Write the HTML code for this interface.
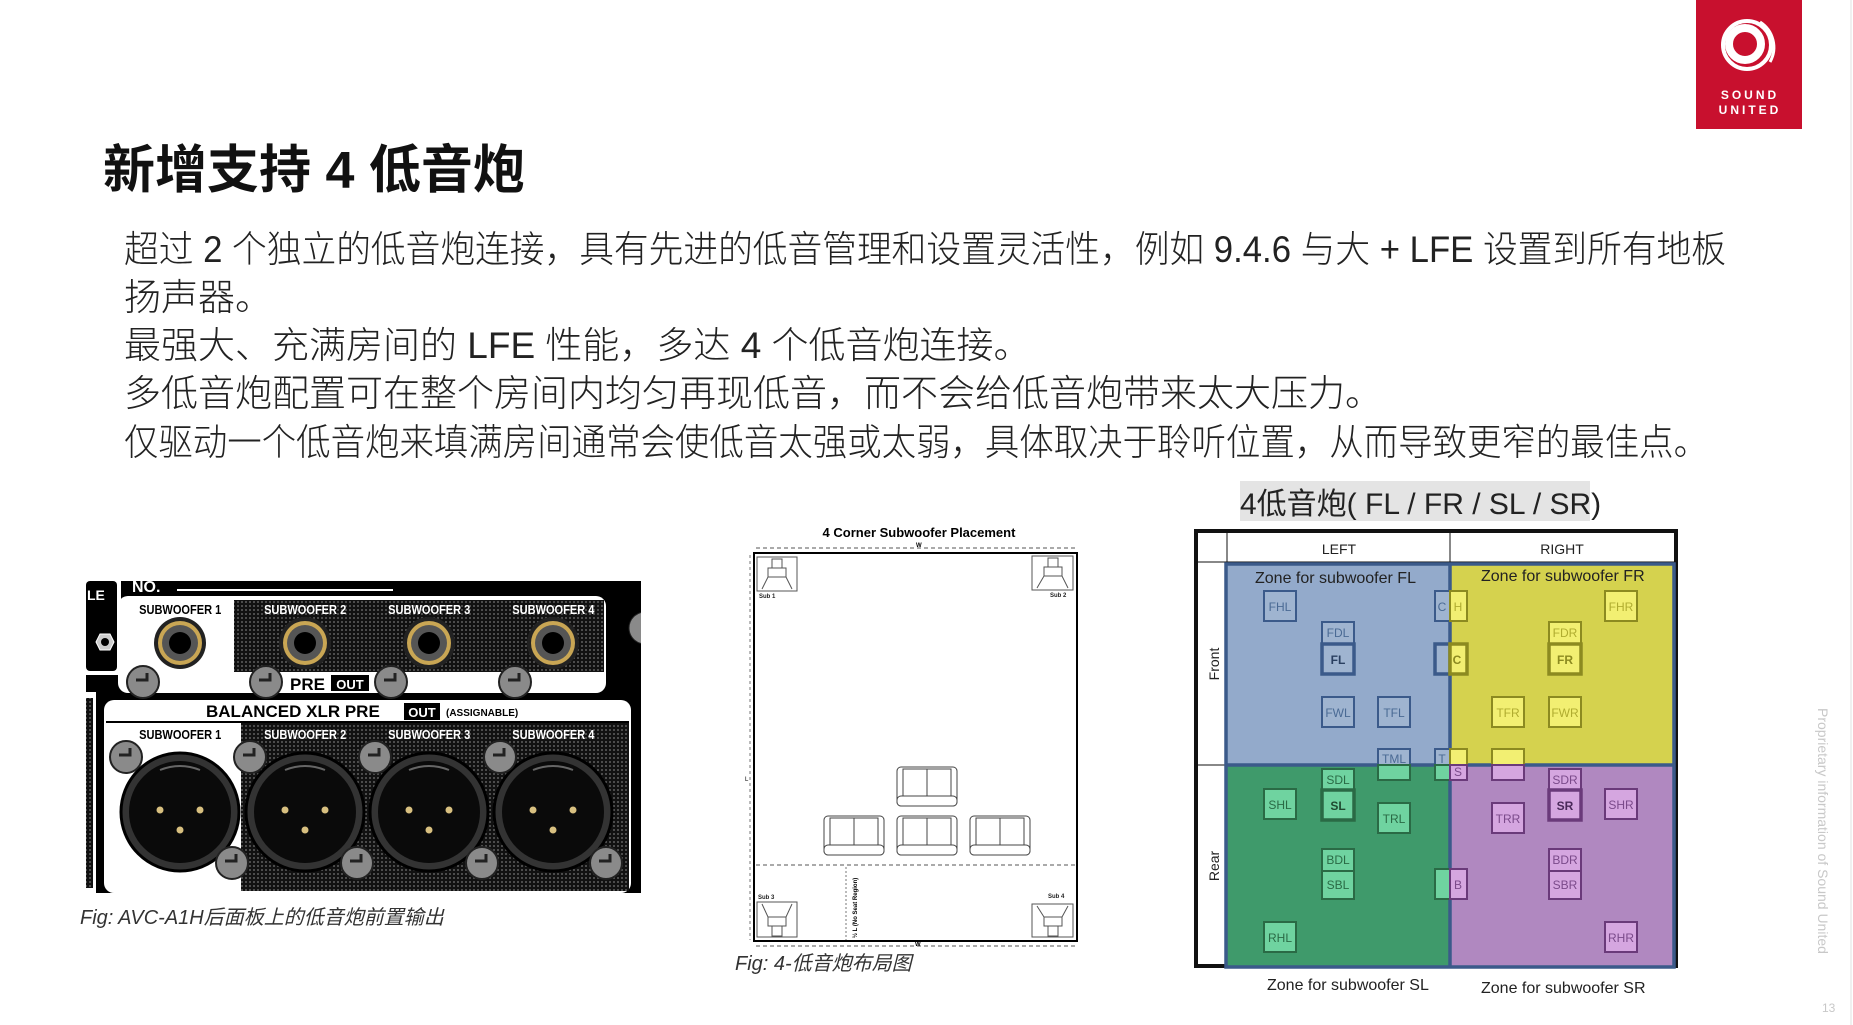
<!DOCTYPE html>
<html><head><meta charset="utf-8"><style>
html,body{margin:0;padding:0;background:#fff;}
svg{display:block;}
</style></head><body>
<svg width="1853" height="1025" viewBox="0 0 1853 1025" xmlns="http://www.w3.org/2000/svg" font-family="Liberation Sans, Noto Sans CJK SC, sans-serif">
<defs>
<pattern id="dots" width="4" height="4" patternUnits="userSpaceOnUse"><rect width="4" height="4" fill="#111"/><circle cx="2" cy="2" r="0.9" fill="#777"/></pattern>
<g id="screw"><circle r="16" fill="#8a8a8a" stroke="#222" stroke-width="2"/><path d="M-7,-2 L4,-2 L4,-9" stroke="#222" stroke-width="3" fill="none"/></g>
<g id="rca"><circle r="26" fill="#222"/><circle r="22" fill="#c9a654"/><circle r="18" fill="#555"/><circle r="11" fill="#000"/></g>
<g id="xlr"><circle r="59" fill="#333" stroke="#000" stroke-width="3"/><circle r="51" fill="#0a0a0a"/><circle r="3.5" cx="-20" cy="-2" fill="#d8c080"/><circle r="3.5" cx="20" cy="-2" fill="#d8c080"/><circle r="3.5" cx="0" cy="18" fill="#d8c080"/><path d="M-20,-42 Q0,-50 20,-42" stroke="#666" stroke-width="2" fill="none"/></g>
<g id="chair" fill="#fff" stroke="#444" stroke-width="1"><rect x="0" y="0" width="60" height="39" rx="4"/><rect x="6" y="2" width="48" height="27"/><line x1="30" y1="2" x2="30" y2="29"/><rect x="0" y="29" width="60" height="10" rx="4"/></g>
<clipPath id="pclip"><rect x="86" y="581" width="555" height="312"/></clipPath>
</defs>

<!-- Logo -->
<rect x="1696" y="0" width="106" height="129" fill="#c8102e"/>
<circle cx="1747" cy="45" r="24" fill="none" stroke="#fff" stroke-width="4"/>
<circle cx="1745" cy="44" r="16" fill="none" stroke="#fff" stroke-width="8"/>
<path d="M1760,22 A30,30 0 0 1 1770,62" stroke="#fff" stroke-width="3" fill="none"/>
<text x="1750" y="99" fill="#fff" font-size="12" font-weight="bold" text-anchor="middle" letter-spacing="3">SOUND</text>
<text x="1750" y="114" fill="#fff" font-size="12" font-weight="bold" text-anchor="middle" letter-spacing="3">UNITED</text>

<line x1="1851" y1="0" x2="1851" y2="1025" stroke="#e0e0e0" stroke-width="1"/>
<text transform="translate(1818,708) rotate(90)" font-size="14" fill="#c8c8c8">Proprietary information of Sound United</text>
<text x="1822" y="1012" font-size="12" fill="#c8c8c8">13</text>

<text x="103" y="188" font-size="52" font-weight="bold" fill="#111">新增支持 4 低音炮</text>
<g font-size="37" fill="#222" font-weight="300">
<text x="124" y="262" textLength="1602" lengthAdjust="spacingAndGlyphs">超过 2 个独立的低音炮连接，具有先进的低音管理和设置灵活性，例如 9.4.6 与大 + LFE 设置到所有地板</text>
<text x="124" y="310">扬声器。</text>
<text x="124" y="358">最强大、充满房间的 LFE 性能，多达 4 个低音炮连接。</text>
<text x="124" y="406">多低音炮配置可在整个房间内均匀再现低音，而不会给低音炮带来太大压力。</text>
<text x="124" y="455" textLength="1584" lengthAdjust="spacingAndGlyphs">仅驱动一个低音炮来填满房间通常会使低音太强或太弱，具体取决于聆听位置，从而导致更窄的最佳点。</text>
</g>

<!-- Panel image -->
<g clip-path="url(#pclip)">
<rect x="86" y="581" width="555" height="312" fill="#000"/>
<rect x="86" y="581" width="35" height="94" fill="#fff"/><rect x="86" y="581" width="31" height="90" fill="#000" rx="4"/>
<text x="87" y="600" fill="#fff" font-size="14" font-weight="bold">LE</text>
<polygon points="96,642 100,634 110,634 114,642 110,650 100,650" fill="#ccc" stroke="#fff"/><circle cx="105" cy="642" r="4" fill="#000"/>
<rect x="86" y="692" width="10" height="201" fill="#fff"/><rect x="86" y="698" width="7" height="190" fill="url(#dots)"/>
<text x="132" y="592" fill="#fff" font-size="16" font-weight="bold">NO.</text>
<line x1="177" y1="590" x2="393" y2="590" stroke="#fff" stroke-width="2"/>
<rect x="118" y="596" width="488" height="97" rx="10" fill="#fff"/>
<rect x="234" y="600" width="370" height="72" fill="url(#dots)"/>
<g font-size="13" font-weight="bold" text-anchor="middle" transform="scale(0.85,1)">
<text x="212" y="614" fill="#000">SUBWOOFER 1</text>
<text x="359" y="614" fill="#fff">SUBWOOFER 2</text>
<text x="505" y="614" fill="#fff">SUBWOOFER 3</text>
<text x="651" y="614" fill="#fff">SUBWOOFER 4</text>
</g>
<use href="#rca" x="180" y="643"/><use href="#rca" x="305" y="643"/><use href="#rca" x="429" y="643"/><use href="#rca" x="553" y="643"/>
<text x="290" y="690" font-size="17" font-weight="bold">PRE</text>
<rect x="331" y="675" width="38" height="16" fill="#000"/><text x="350" y="689" fill="#fff" font-size="13" font-weight="bold" text-anchor="middle">OUT</text>
<use href="#screw" x="143" y="682"/><use href="#screw" x="266" y="682"/><use href="#screw" x="391" y="682"/><use href="#screw" x="515" y="682"/>
<circle cx="645" cy="628" r="16" fill="#8a8a8a" stroke="#222"/>
<rect x="104" y="700" width="527" height="193" rx="10" fill="#fff"/>
<rect x="241" y="723" width="388" height="168" fill="url(#dots)"/>
<line x1="106" y1="722" x2="629" y2="722" stroke="#000" stroke-width="2"/>
<text x="206" y="717" font-size="17" font-weight="bold">BALANCED XLR PRE</text>
<rect x="404" y="703" width="36" height="17" fill="#000"/><text x="422" y="717" fill="#fff" font-size="13" font-weight="bold" text-anchor="middle">OUT</text>
<text x="446" y="716" font-size="10" font-weight="bold">(ASSIGNABLE)</text>
<g font-size="13" font-weight="bold" text-anchor="middle" transform="scale(0.85,1)">
<text x="212" y="739" fill="#000">SUBWOOFER 1</text>
<text x="359" y="739" fill="#fff">SUBWOOFER 2</text>
<text x="505" y="739" fill="#fff">SUBWOOFER 3</text>
<text x="651" y="739" fill="#fff">SUBWOOFER 4</text>
</g>
<use href="#xlr" x="180" y="812"/><use href="#xlr" x="305" y="812"/><use href="#xlr" x="429" y="812"/><use href="#xlr" x="553" y="812"/>
<use href="#screw" x="126" y="757"/><use href="#screw" x="250" y="757"/><use href="#screw" x="375" y="757"/><use href="#screw" x="500" y="757"/>
<use href="#screw" x="232" y="863"/><use href="#screw" x="357" y="863"/><use href="#screw" x="482" y="863"/><use href="#screw" x="606" y="863"/>
</g>
<text x="80" y="924" font-size="20" font-style="italic" fill="#333">Fig: AVC-A1H后面板上的低音炮前置输出</text>

<!-- Middle room diagram -->
<text x="919" y="537" font-size="13" font-weight="bold" text-anchor="middle">4 Corner Subwoofer Placement</text>
<line x1="756" y1="548" x2="1076" y2="548" stroke="#555" stroke-dasharray="4,3"/>
<text x="916" y="547" font-size="6" font-weight="bold">W</text>
<line x1="750" y1="555" x2="750" y2="940" stroke="#777" stroke-dasharray="3,3"/>
<text x="745" y="781" font-size="6">L</text>
<rect x="754" y="553" width="323" height="388" fill="none" stroke="#000" stroke-width="2"/>
<line x1="756" y1="865" x2="1076" y2="865" stroke="#555" stroke-dasharray="4,3"/>
<line x1="846" y1="867" x2="846" y2="940" stroke="#777" stroke-dasharray="2,2"/>
<text transform="translate(857,938) rotate(-90)" font-size="6" font-weight="bold">½ L (No Seat Region)</text>
<line x1="756" y1="946" x2="1076" y2="946" stroke="#555" stroke-dasharray="4,3"/>
<text x="915" y="946" font-size="6" font-weight="bold">W</text>
<g fill="#fff" stroke="#555" stroke-width="1">
<rect x="757" y="557" width="40" height="34"/><rect x="768" y="568" width="18" height="9"/><path d="M762,589 L768,577 L786,577 L792,589"/><rect x="772" y="559" width="10" height="9"/>
<rect x="1032" y="556" width="41" height="34"/><rect x="1044" y="567" width="18" height="9"/><path d="M1037,588 L1044,576 L1062,576 L1068,588"/><rect x="1048" y="558" width="10" height="9"/>
<rect x="757" y="902" width="40" height="35"/><rect x="768" y="917" width="18" height="9"/><path d="M762,904 L768,917 L786,917 L792,904"/><rect x="772" y="926" width="10" height="10"/>
<rect x="1032" y="904" width="41" height="33"/><rect x="1044" y="917" width="18" height="9"/><path d="M1037,906 L1044,917 L1062,917 L1068,906"/><rect x="1048" y="926" width="10" height="10"/>
</g>
<g font-size="6" font-weight="bold" fill="#222"><text x="759" y="598">Sub 1</text><text x="1050" y="597">Sub 2</text><text x="758" y="899">Sub 3</text><text x="1048" y="898">Sub 4</text></g>
<use href="#chair" x="897" y="767"/>
<use href="#chair" x="824" y="816"/><use href="#chair" x="897" y="816"/><use href="#chair" x="970" y="816"/>
<text x="735" y="970" font-size="20" font-style="italic" fill="#333">Fig: 4-低音炮布局图</text>

<!-- Right zone diagram -->
<rect x="1240" y="481" width="350" height="40" fill="#e4e4e4"/>
<text x="1240" y="514" font-size="30" fill="#222">4低音炮( FL / FR / SL / SR)</text>
<rect x="1196" y="531" width="480" height="435" fill="#fff" stroke="#111" stroke-width="4"/>
<line x1="1227" y1="533" x2="1227" y2="564" stroke="#111"/>
<line x1="1450" y1="533" x2="1450" y2="564" stroke="#111"/>
<line x1="1198" y1="562" x2="1674" y2="562" stroke="#111"/>
<line x1="1198" y1="765" x2="1227" y2="765" stroke="#111"/>
<text x="1339" y="554" font-size="14" text-anchor="middle" fill="#222">LEFT</text>
<text x="1562" y="554" font-size="14" text-anchor="middle" fill="#222">RIGHT</text>
<text transform="translate(1219,664) rotate(-90)" font-size="14" text-anchor="middle" fill="#222">Front</text>
<text transform="translate(1219,866) rotate(-90)" font-size="14" text-anchor="middle" fill="#222">Rear</text>
<rect x="1226" y="564" width="224" height="201" fill="#93aacb"/>
<rect x="1450" y="564" width="224" height="201" fill="#d5d24e"/>
<rect x="1226" y="765" width="224" height="202" fill="#3f9a6b"/>
<rect x="1450" y="765" width="224" height="202" fill="#b088c0"/>
<g fill="none" stroke="#3b5a8a" stroke-width="3.5">
<rect x="1226" y="564" width="448" height="403"/>
<line x1="1450" y1="564" x2="1450" y2="967"/>
<line x1="1226" y1="765" x2="1674" y2="765"/>
</g>
<g font-size="12" text-anchor="middle">
<g fill="#9fb4d0" stroke="#3b5a8a" stroke-width="2">
<rect x="1264" y="591" width="32" height="30"/><rect x="1322" y="622" width="32" height="22"/><rect x="1322" y="644" width="32" height="30" stroke-width="3.5"/>
<rect x="1322" y="697" width="32" height="30"/><rect x="1378" y="697" width="32" height="30"/>
<rect x="1435" y="591" width="15" height="30"/><rect x="1435" y="644" width="15" height="30" stroke-width="3.5"/>
<rect x="1378" y="749" width="32" height="16"/><rect x="1435" y="749" width="15" height="16"/>
</g>
<g fill="#f2ef72" stroke="#8c8a20" stroke-width="2">
<rect x="1605" y="591" width="32" height="30"/><rect x="1549" y="622" width="32" height="22"/><rect x="1549" y="644" width="32" height="30" stroke-width="3.5"/>
<rect x="1492" y="697" width="32" height="30"/><rect x="1549" y="697" width="32" height="30"/>
<rect x="1450" y="591" width="17" height="30"/><rect x="1450" y="644" width="17" height="30" stroke-width="3.5"/>
<rect x="1492" y="749" width="32" height="16"/><rect x="1450" y="749" width="17" height="16"/>
</g>
<g fill="#6fd3a0" stroke="#2a6a45" stroke-width="2">
<rect x="1264" y="789" width="32" height="30"/><rect x="1322" y="769" width="32" height="21"/><rect x="1322" y="790" width="32" height="30" stroke-width="3.5"/>
<rect x="1378" y="803" width="32" height="30"/><rect x="1322" y="849" width="32" height="22"/><rect x="1322" y="871" width="32" height="28"/>
<rect x="1264" y="922" width="32" height="30"/><rect x="1378" y="765" width="32" height="15"/><rect x="1435" y="765" width="15" height="15"/><rect x="1435" y="869" width="15" height="30"/>
</g>
<g fill="#d5a6e0" stroke="#6a3a7a" stroke-width="2">
<rect x="1605" y="789" width="32" height="30"/><rect x="1549" y="769" width="32" height="21"/><rect x="1549" y="790" width="32" height="30" stroke-width="3.5"/>
<rect x="1492" y="803" width="32" height="30"/><rect x="1549" y="849" width="32" height="22"/><rect x="1549" y="871" width="32" height="28"/>
<rect x="1605" y="922" width="32" height="30"/><rect x="1492" y="765" width="32" height="15"/><rect x="1450" y="765" width="17" height="15"/><rect x="1450" y="869" width="17" height="30"/>
</g>
<g fill="#4a6a94"><text x="1280" y="611">FHL</text><text x="1338" y="637">FDL</text><text x="1338" y="717">FWL</text><text x="1394" y="717">TFL</text><text x="1394" y="763">TML</text><text x="1442" y="611">C</text><text x="1442" y="763">T</text></g>
<g fill="#2a3f60" font-weight="bold"><text x="1338" y="664">FL</text></g>
<g fill="#b0ac30"><text x="1621" y="611">FHR</text><text x="1565" y="637">FDR</text><text x="1508" y="717">TFR</text><text x="1565" y="717">FWR</text><text x="1458" y="611">H</text></g>
<g fill="#8c8a20" font-weight="bold"><text x="1565" y="664">FR</text><text x="1457" y="664">C</text></g>
<g fill="#2a6a45"><text x="1280" y="809">SHL</text><text x="1338" y="784">SDL</text><text x="1394" y="823">TRL</text><text x="1338" y="864">BDL</text><text x="1338" y="889">SBL</text><text x="1280" y="942">RHL</text></g>
<g fill="#1f4a30" font-weight="bold"><text x="1338" y="810">SL</text></g>
<g fill="#7a4a8a"><text x="1621" y="809">SHR</text><text x="1565" y="784">SDR</text><text x="1508" y="823">TRR</text><text x="1565" y="864">BDR</text><text x="1565" y="889">SBR</text><text x="1621" y="942">RHR</text><text x="1458" y="889">B</text><text x="1458" y="776">S</text></g>
<g fill="#4a2a5a" font-weight="bold"><text x="1565" y="810">SR</text></g>
</g>
<text x="1255" y="583" font-size="16" fill="#222">Zone for subwoofer FL</text>
<text x="1481" y="581" font-size="16" fill="#222">Zone for subwoofer FR</text>
<text x="1267" y="990" font-size="16" fill="#222">Zone for subwoofer SL</text>
<text x="1481" y="993" font-size="16" fill="#222">Zone for subwoofer SR</text>
</svg>
</body></html>
